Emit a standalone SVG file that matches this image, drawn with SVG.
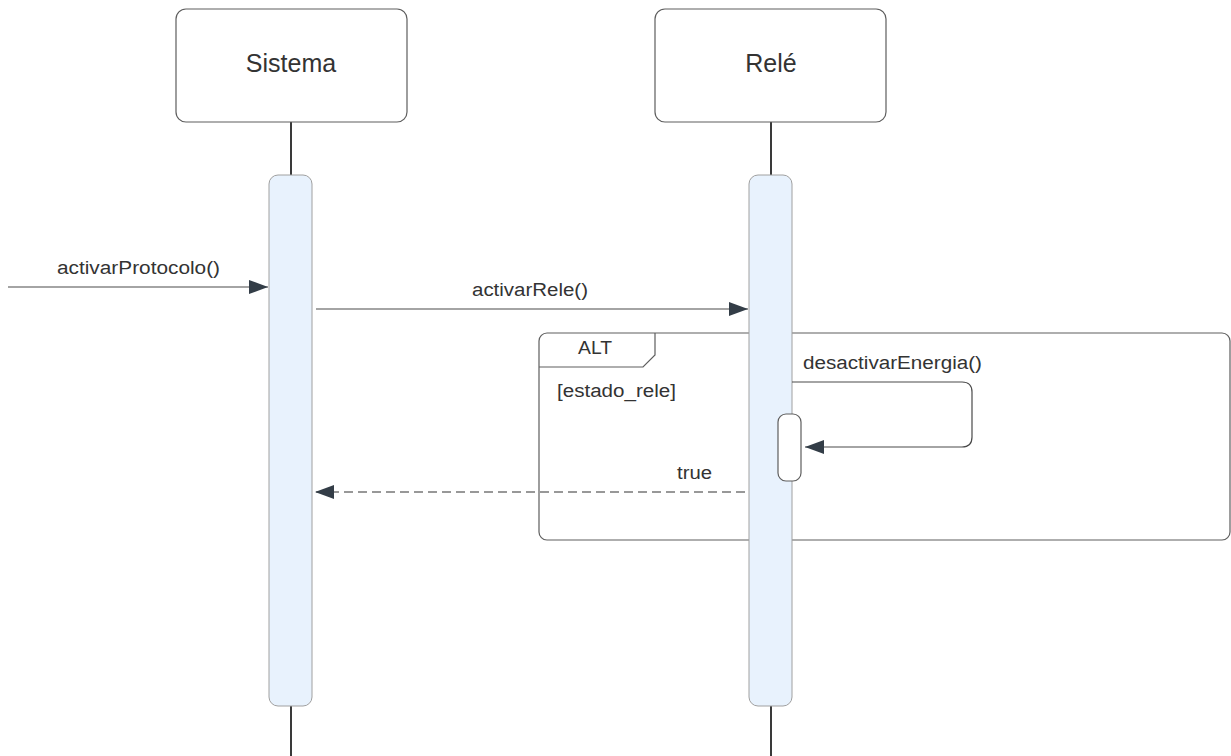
<svg xmlns="http://www.w3.org/2000/svg" width="1231" height="756" viewBox="0 0 1231 756">
  <style>
    .head { fill: #ffffff; stroke: #5e5e5e; stroke-width: 1.2; }
    .life { stroke: #3a3a3a; stroke-width: 2; }
    .act { fill: #e8f2fd; stroke: #a0a0a0; stroke-width: 1; }
    .msg { fill: none; stroke: #4a4a4a; stroke-width: 1.2; }
    .ret { fill: none; stroke: #777777; stroke-width: 1.5; stroke-dasharray: 9 5; }
    .frame { fill: none; stroke: #5e5e5e; stroke-width: 1.2; }
    text { font-family: "Liberation Sans", Arial, sans-serif; fill: #333333; }
    .title { font-size: 25px; }
    .lbl { font-size: 18px; }
  </style>
  <defs>
    <marker id="arrow" markerWidth="20" markerHeight="14" refX="19" refY="7" orient="auto" markerUnits="userSpaceOnUse">
      <path d="M0,0 L19,7 L0,14 Z" fill="#333d47"/>
    </marker>
  </defs>

  <rect width="1231" height="756" fill="#ffffff"/>

  <!-- lifelines -->
  <g id="lifelines">
    <line class="life" x1="291" y1="122" x2="291" y2="756"/>
    <line class="life" x1="771" y1="122" x2="771" y2="756"/>
  </g>

  <!-- ALT combined fragment -->
  <g id="alt-frame">
    <rect class="frame" x="539" y="333" width="691" height="207" rx="8"/>
    <path class="frame" d="M539,367 L643,367 L655,355 L655,333"/>
    <text class="lbl" x="595" y="354" text-anchor="middle" textLength="34" lengthAdjust="spacingAndGlyphs">ALT</text>
    <text class="lbl" x="557" y="397" textLength="119" lengthAdjust="spacingAndGlyphs">[estado_rele]</text>
  </g>

  <!-- participant: Sistema -->
  <g id="sistema">
    <rect class="head" x="176" y="9" width="231" height="113" rx="10"/>
    <text class="title" x="291" y="72" text-anchor="middle">Sistema</text>
    <rect class="act" x="269" y="175" width="43" height="531" rx="9"/>
  </g>

  <!-- participant: Relé -->
  <g id="rele">
    <rect class="head" x="655" y="9" width="231" height="113" rx="10"/>
    <text class="title" x="771" y="72" text-anchor="middle">Relé</text>
    <rect class="act" x="749" y="175" width="43" height="531" rx="9"/>
    <rect x="778" y="414" width="23" height="67" rx="8" fill="#ffffff" stroke="#5e5e5e" stroke-width="1.2"/>
  </g>

  <!-- messages -->
  <g id="connectors">
    <line class="msg" x1="8" y1="287" x2="268" y2="287" marker-end="url(#arrow)"/>
    <text class="lbl" x="138.5" y="274" text-anchor="middle" textLength="163" lengthAdjust="spacingAndGlyphs">activarProtocolo()</text>

    <line class="msg" x1="316" y1="309" x2="748" y2="309" marker-end="url(#arrow)"/>
    <text class="lbl" x="530" y="296" text-anchor="middle" textLength="116" lengthAdjust="spacingAndGlyphs">activarRele()</text>

    <path class="msg" d="M792,382 L962,382 Q972,382 972,392 L972,437 Q972,447 962,447 L805,447" marker-end="url(#arrow)"/>
    <text class="lbl" x="803" y="369" textLength="179" lengthAdjust="spacingAndGlyphs">desactivarEnergia()</text>

    <line class="ret" x1="745" y1="492" x2="315" y2="492" marker-end="url(#arrow)"/>
    <text class="lbl" x="694.5" y="479" text-anchor="middle" textLength="35" lengthAdjust="spacingAndGlyphs">true</text>
  </g>
</svg>
